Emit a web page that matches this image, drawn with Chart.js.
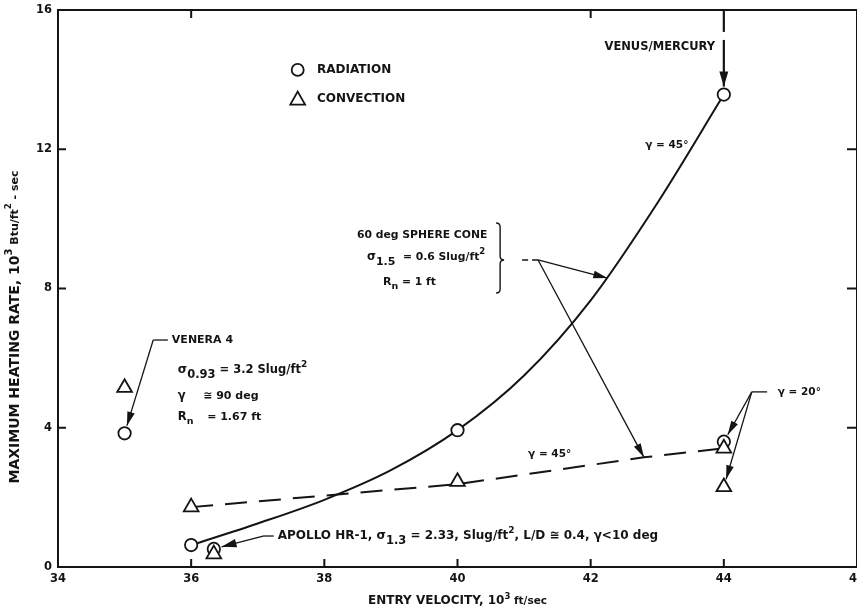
<!DOCTYPE html>
<html>
<head>
<meta charset="utf-8">
<script src="https://cdn.jsdelivr.net/npm/chart.js@4.4.0/dist/chart.umd.min.js"></script>
<style>
  html, body { margin: 0; padding: 0; background: #fff; }
  #wrap { width: 857px; height: 612px; position: relative; }
</style>
</head>
<body>
<div id="wrap"><canvas id="heatChart"></canvas></div>
<script>
// entry velocity in 10^3 ft/sec, heating rate in 10^3 Btu/ft^2-sec
const radiationX = [35, 36, 36.34, 40, 44, 44];
const radiationY = [3.84, 0.63, 0.52, 3.93, 13.57, 3.6];
const convectionX = [35, 36, 36.34, 40, 44, 44];
const convectionY = [5.15, 1.72, 0.37, 2.45, 3.41, 2.3];

// faired curves for the 45 deg entries
const radCurveX = [36, 37, 38, 39, 40, 41, 42, 43, 44];
const radCurveY = [0.63, 1.25, 1.93, 2.78, 3.93, 5.5, 7.66, 10.45, 13.57];
const convCurveX = [36, 40, 42.8, 44];
const convCurveY = [1.72, 2.38, 3.15, 3.41];

const xTicks = [34, 36, 38, 40, 42, 44, 46];
const yTicks = [0, 4, 8, 12, 16];
const topTicks = [36, 42];
const rightTicks = [4, 8, 12];

const INK = '#141414';
const FAM = '"DejaVu Sans", Verdana, sans-serif';

function font(size, weight) {
    return (weight || 'bold') + ' ' + size + 'px ' + FAM;
}

function points(xs, ys) {
    return ys.map((y, i) => ({ x: xs[i], y: y }));
}

// text made of runs: [text, size, baseline shift]
function runs(ctx, x, y, parts, align) {
    let w = 0;
    parts.forEach(p => { ctx.font = font(p[1]); w += ctx.measureText(p[0]).width; });
    let cx = align === 'right' ? x - w : (align === 'center' ? x - w / 2 : x);
    ctx.textAlign = 'left';
    ctx.textBaseline = 'middle';
    parts.forEach(p => {
        ctx.font = font(p[1]);
        ctx.fillText(p[0], cx, y + (p[2] || 0));
        cx += ctx.measureText(p[0]).width;
    });
}

function arrow(ctx, x0, y0, x1, y1, len, half) {
    ctx.beginPath();
    ctx.moveTo(x0, y0);
    ctx.lineTo(x1, y1);
    ctx.stroke();
    let a = Math.atan2(y1 - y0, x1 - x0);
    ctx.beginPath();
    ctx.moveTo(x1, y1);
    ctx.lineTo(x1 - len * Math.cos(a) + half * Math.sin(a), y1 - len * Math.sin(a) - half * Math.cos(a));
    ctx.lineTo(x1 - len * Math.cos(a) - half * Math.sin(a), y1 - len * Math.sin(a) + half * Math.cos(a));
    ctx.closePath();
    ctx.fill();
}

// arrow that stops at the edge of a marker
function arrowTo(ctx, x0, y0, mx, my, r, len, half) {
    let d = Math.hypot(x0 - mx, y0 - my);
    arrow(ctx, x0, y0, mx + (x0 - mx) / d * r, my + (y0 - my) / d * r, len, half);
}

const framePlugin = {
    id: 'frame',
    afterDraw(chart) {
        const ctx = chart.ctx;
        const a = chart.chartArea;
        const xs = chart.scales.x, ys = chart.scales.y;
        const X = v => xs.getPixelForValue(v);
        const Y = v => ys.getPixelForValue(v);

        ctx.save();
        ctx.strokeStyle = INK;
        ctx.fillStyle = INK;
        ctx.lineCap = 'butt';

        // box and inward ticks
        ctx.lineWidth = 2;
        ctx.strokeRect(a.left, a.top, a.right - a.left, a.bottom - a.top);
        ctx.beginPath();
        xTicks.forEach(v => { ctx.moveTo(X(v), a.bottom); ctx.lineTo(X(v), a.bottom - 8); });
        yTicks.forEach(v => { ctx.moveTo(a.left, Y(v)); ctx.lineTo(a.left + 8, Y(v)); });
        topTicks.forEach(v => { ctx.moveTo(X(v), a.top); ctx.lineTo(X(v), a.top + 8); });
        rightTicks.forEach(v => { ctx.moveTo(a.right, Y(v)); ctx.lineTo(a.right - 10, Y(v)); });
        ctx.stroke();

        // axis titles
        runs(ctx, X(40), 601, [['ENTRY VELOCITY, 10', 12], ['3', 8.5, -4], [' ft/sec', 10.5]], 'center');
        ctx.save();
        ctx.translate(15, 327);
        ctx.rotate(-Math.PI / 2);
        runs(ctx, 0, 0, [['MAXIMUM HEATING RATE, 10', 14], ['3', 10, -6], [' Btu/ft', 11], ['2', 8.5, -6], [' - sec', 11]], 'center');
        ctx.restore();

        // legend
        ctx.lineWidth = 1.8;
        ctx.beginPath();
        ctx.arc(X(37.6), Y(14.28), 6, 0, Math.PI * 2);
        ctx.stroke();
        let tx = X(37.6), ty = Y(13.44);
        ctx.beginPath();
        ctx.moveTo(tx, ty - 7.5);
        ctx.lineTo(tx + 7.4, ty + 5.5);
        ctx.lineTo(tx - 7.4, ty + 5.5);
        ctx.closePath();
        ctx.stroke();
        runs(ctx, X(37.89), Y(14.28), [['RADIATION', 12]]);
        runs(ctx, X(37.89), Y(13.44), [['CONVECTION', 12]]);

        // Venus/Mercury entry
        runs(ctx, X(43.87), Y(14.94), [['VENUS/MERCURY', 11.5]], 'right');
        ctx.lineWidth = 2.2;
        ctx.beginPath();
        ctx.moveTo(X(44), a.top);
        ctx.lineTo(X(44), Y(15.37));
        ctx.stroke();
        arrow(ctx, X(44), Y(15.14), X(44), Y(radiationY[4]) - 8, 15, 4.5);
        runs(ctx, X(42.82), Y(12.12), [['γ = 45°', 10.5]]);

        // sphere cone note with brace
        runs(ctx, X(38.49), Y(9.54), [['60 deg SPHERE CONE', 10.8]]);
        runs(ctx, X(38.64), Y(8.91), [['σ', 11.5], ['1.5', 11, 5], ['  = 0.6 Slug/ft', 10.8], ['2', 8.5, -5]]);
        runs(ctx, X(38.88), Y(8.19), [['R', 11], ['n', 9.5, 5], [' = 1 ft', 10.8]]);
        let bx = X(40.64), bt = Y(9.88), bb = Y(7.87), bm = Y(8.82);
        ctx.lineWidth = 1.4;
        ctx.beginPath();
        ctx.moveTo(bx - 4, bt);
        ctx.quadraticCurveTo(bx, bt, bx, bt + 4);
        ctx.lineTo(bx, bm - 4);
        ctx.quadraticCurveTo(bx, bm, bx + 4, bm);
        ctx.quadraticCurveTo(bx, bm, bx, bm + 4);
        ctx.lineTo(bx, bb - 4);
        ctx.quadraticCurveTo(bx, bb, bx - 4, bb);
        ctx.stroke();
        let ox = X(41.21), oy = Y(8.82);
        ctx.beginPath();
        ctx.moveTo(X(40.97), oy);
        ctx.lineTo(X(41.06), oy);
        ctx.moveTo(ox - 6, oy);
        ctx.lineTo(ox, oy);
        ctx.stroke();
        ctx.lineWidth = 1.3;
        arrow(ctx, ox, oy, X(42.25), Y(8.3), 14, 3.8);
        arrow(ctx, ox, oy, X(convCurveX[2]), Y(convCurveY[2]), 14, 3.8);
        runs(ctx, X(41.06), Y(3.25), [['γ = 45°', 10.5]]);

        // 20 deg entries
        runs(ctx, X(44.81), Y(5.03), [['γ = 20°', 10.5]]);
        let gx = X(44.42), gy = Y(5.03);
        ctx.beginPath();
        ctx.moveTo(gx, gy);
        ctx.lineTo(X(44.65), gy);
        ctx.stroke();
        arrowTo(ctx, gx, gy, X(radiationX[5]), Y(radiationY[5]), 8, 14, 3.8);
        arrowTo(ctx, gx, gy, X(convectionX[5]), Y(convectionY[5]), 8, 14, 3.8);

        // Venera 4
        runs(ctx, X(35.71), Y(6.52), [['VENERA 4', 11]]);
        let vx = X(35.43), vy = Y(6.52);
        ctx.beginPath();
        ctx.moveTo(vx, vy);
        ctx.lineTo(X(35.65), vy);
        ctx.stroke();
        arrowTo(ctx, vx, vy, X(radiationX[0]), Y(radiationY[0]), 8, 14, 3.8);
        runs(ctx, X(35.8), Y(5.66), [['σ', 12], ['0.93', 11.5, 5], [' = 3.2 Slug/ft', 11.5], ['2', 9, -5]]);
        runs(ctx, X(35.8), Y(4.91), [['γ', 11.5]]);
        runs(ctx, X(36.18), Y(4.91), [['≅ 90 deg', 11]]);
        runs(ctx, X(35.8), Y(4.31), [['R', 11.5], ['n', 9.5, 5]]);
        runs(ctx, X(36.24), Y(4.31), [['= 1.67 ft', 11]]);

        // Apollo
        let px = X(37.08), py = Y(0.89);
        ctx.beginPath();
        ctx.moveTo(px, py);
        ctx.lineTo(X(37.24), py);
        ctx.stroke();
        arrowTo(ctx, px, py, X(radiationX[2]), Y(radiationY[2]), 8, 15, 4.2);
        runs(ctx, X(37.3), py, [['APOLLO HR-1, σ', 12], ['1.3', 11.5, 5], [' = 2.33, Slug/ft', 12], ['2', 9, -5],
            [', L/D ≅ 0.4, γ<10 deg', 12]]);

        ctx.restore();
    }
};

new Chart(document.getElementById('heatChart'), {
    type: 'scatter',
    data: {
        datasets: [
            {
                label: 'CONVECTION',
                data: points(convectionX, convectionY),
                pointStyle: 'triangle',
                pointRadius: 8.5,
                borderColor: INK,
                backgroundColor: '#fff',
                borderWidth: 1.8,
                order: 0
            },
            {
                label: 'RADIATION',
                data: points(radiationX, radiationY),
                pointStyle: 'circle',
                pointRadius: 6.2,
                borderColor: INK,
                backgroundColor: '#fff',
                borderWidth: 1.8,
                order: 1
            },
            {
                label: 'radiation, 45 deg',
                data: points(radCurveX, radCurveY),
                showLine: true,
                cubicInterpolationMode: 'monotone',
                borderColor: INK,
                borderWidth: 2,
                pointRadius: 0,
                order: 2
            },
            {
                label: 'convection, 45 deg',
                data: points(convCurveX, convCurveY),
                showLine: true,
                tension: 0,
                borderColor: INK,
                borderWidth: 2,
                borderDash: [22, 12],
                pointRadius: 0,
                order: 3
            }
        ]
    },
    options: {
        responsive: true,
        maintainAspectRatio: false,
        animation: false,
        layout: { autoPadding: false, padding: { top: 10, right: 0, left: 0, bottom: 0 } },
        plugins: {
            legend: { display: false },
            tooltip: { enabled: false }
        },
        scales: {
            x: {
                type: 'linear',
                min: 34,
                max: 46,
                afterFit: s => { s.height = 45; s.paddingLeft = 0; s.paddingRight = 0; },
                afterBuildTicks: s => { s.ticks = xTicks.map(v => ({ value: v })); },
                grid: { display: false, drawTicks: false },
                border: { display: false },
                ticks: { color: INK, font: { family: FAM, size: 11.5, weight: 'bold' }, padding: 5, maxRotation: 0, autoSkip: false }
            },
            y: {
                min: 0,
                max: 16,
                afterFit: s => { s.width = 58; s.paddingTop = 0; s.paddingBottom = 0; },
                afterBuildTicks: s => { s.ticks = yTicks.map(v => ({ value: v })); },
                grid: { display: false, drawTicks: false },
                border: { display: false },
                ticks: { color: INK, font: { family: FAM, size: 11.5, weight: 'bold' }, padding: 6 }
            }
        }
    },
    plugins: [framePlugin]
});
</script>
</body>
</html>
